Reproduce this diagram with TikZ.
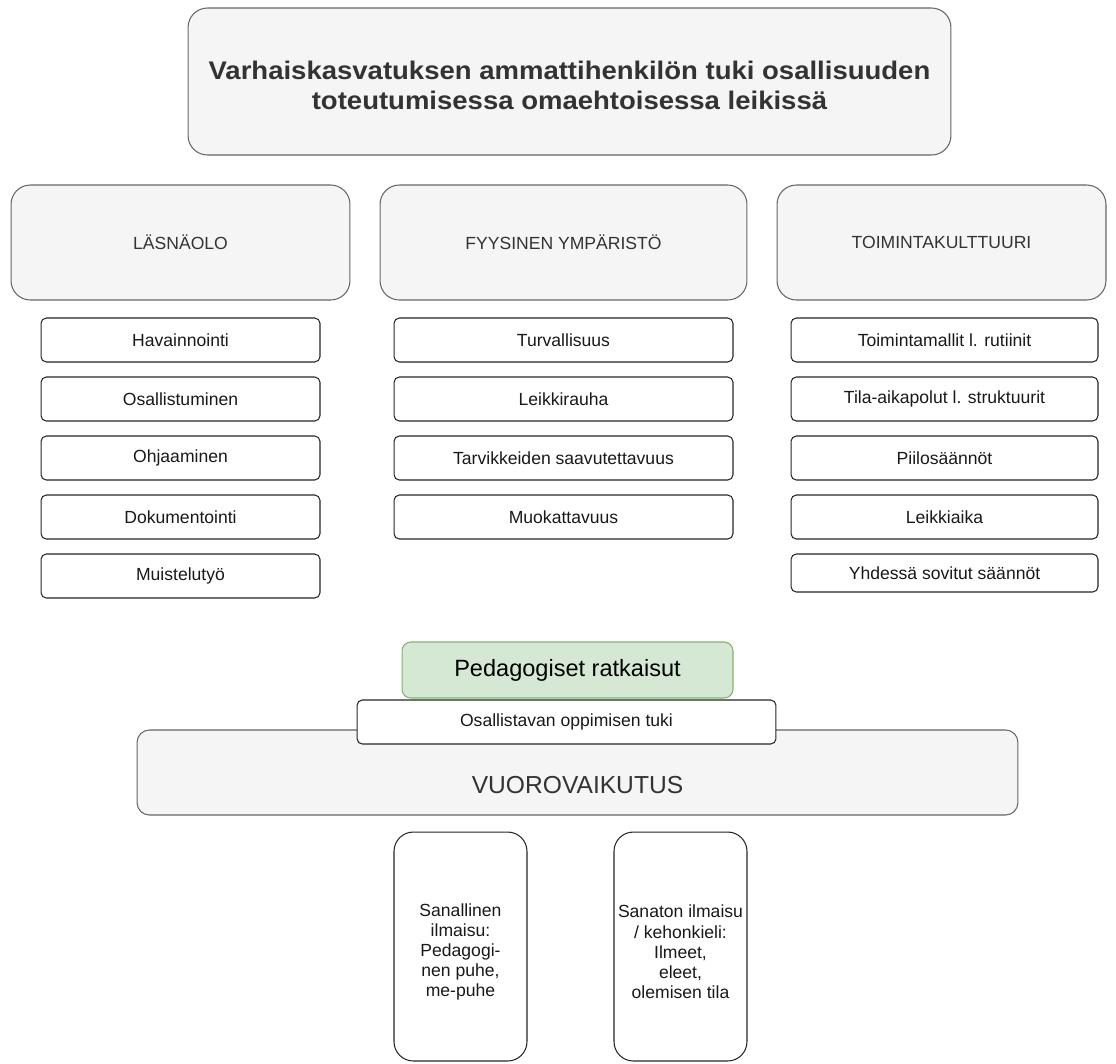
\documentclass[tikz,border=0pt]{standalone}
\usepackage{fontspec}
\setmainfont{Liberation Sans}
\newfontfamily\titlefont{Liberation Sans}[FakeStretch=1.08]
\usepackage{xcolor}
\usetikzlibrary{positioning}
\definecolor{boxgray}{HTML}{F5F5F5}
\definecolor{linegray}{HTML}{666666}
\definecolor{textgray}{HTML}{333333}
\definecolor{boxgreen}{HTML}{D5E8D4}
\definecolor{linegreen}{HTML}{82B366}

\begin{document}
\begin{tikzpicture}[x=0.02cm, y=-0.02cm,
	graybox/.style={draw=linegray, fill=boxgray, line width=0.6pt, text=textgray},
	headbox/.style={graybox, rounded corners=11pt, minimum height=2.3cm, font=\fontsize{10}{12}\selectfont},
	itembox/.style={draw=black!85, fill=white, line width=0.6pt, rounded corners=3pt, minimum height=0.88cm, text=black!90, font=\fontsize{10}{12}\selectfont},
	tallbox/.style={itembox, rounded corners=11pt, minimum width=2.66cm, minimum height=4.58cm},
	talltext/.style={align=center, text=black!90, font=\fontsize{10}{11.5}\selectfont}]
	\path[use as bounding box, fill=white] (0,0) rectangle (1116,1063);

	\node[graybox, rounded corners=11pt, minimum width=15.26cm, minimum height=2.94cm] (otsikko) at (569.5, 81.5) {};
	\node[align=center, text=textgray, font=\titlefont\bfseries\fontsize{14.5}{17}\selectfont] (otsikkoteksti) at (569.5, 85) {Varhaiskasvatuksen ammattihenkilön tuki osallisuuden\\toteutumisessa omaehtoisessa leikissä};

	\node[headbox, minimum width=6.78cm] (lasna) at (180.5, 242.5) {LÄSNÄOLO};
	\node[headbox, minimum width=7.34cm] (fyys) at (563.5, 242.5) {FYYSINEN YMPÄRISTÖ};
	\node[headbox, minimum width=6.58cm] (toim) at (941.5, 242.5) {TOIMINTAKULTTUURI};

	\foreach \t [count=\i] in {Havainnointi, Osallistuminen, Ohjaaminen, Dokumentointi, Muistelutyö} {
		\node[itembox, minimum width=5.58cm] (lasna\i) at (180.5, 281+59*\i) {\t};
	};
	\foreach \t [count=\i] in {Turvallisuus, Leikkirauha, Tarvikkeiden saavutettavuus, Muokattavuus} {
		\node[itembox, minimum width=6.78cm] (fyys\i) at (563.5, 281+59*\i) {\t};
	};
	\foreach \t [count=\i] in {Toimintamallit l. rutiinit, Tila-aikapolut l. struktuurit, Piilosäännöt, Leikkiaika} {
		\node[itembox, minimum width=6.14cm] (toim\i) at (944.5, 281+59*\i) {\t};
	};
	\node[itembox, minimum width=6.14cm, minimum height=0.76cm] (toim5) at (944.5, 573) {Yhdessä sovitut säännöt};

	\node[graybox, rounded corners=7pt, minimum width=17.62cm, minimum height=1.7cm] (vuoro) at (577.5, 772.5) {};
	\node[text=textgray, font=\fontsize{14}{16}\selectfont] (vuoroteksti) at (577.5, 785) {VUOROVAIKUTUS};
	\node[draw=linegreen, fill=boxgreen, line width=0.6pt, rounded corners=5pt, minimum width=6.62cm, minimum height=1.12cm, font=\fontsize{13.4}{15}\selectfont] (pedag) at (567.5, 670) {Pedagogiset ratkaisut};
	\node[itembox, minimum width=8.38cm] (osall) at (566.5, 722) {Osallistavan oppimisen tuki};

	\node[tallbox] (sanal) at (460.5, 946.5) {};
	\node[talltext] (sanalteksti) at (460.5, 952) {Sanallinen\\ilmaisu:\\Pedagogi-\\nen puhe,\\me-puhe};
	\node[tallbox] (sanat) at (680.5, 946.5) {};
	\node[talltext] (sanatteksti) at (680.5, 952) {Sanaton ilmaisu\\/ kehonkieli:\\Ilmeet,\\eleet,\\olemisen tila};
\end{tikzpicture}
\end{document}
